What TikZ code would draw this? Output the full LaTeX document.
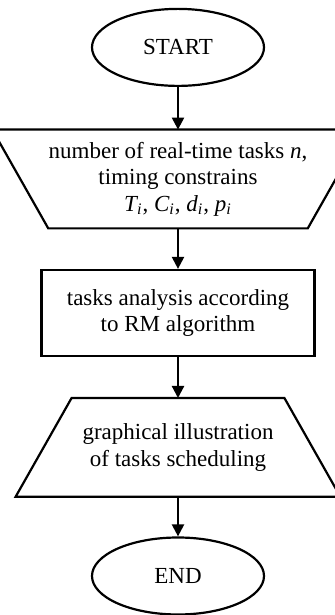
\documentclass[tikz,border=0pt]{standalone}
\usepackage{fontspec}
\setmainfont{Liberation Serif}
\usepackage{tikz}
\usetikzlibrary{
  arrows.meta,
  shapes.geometric,
  calc
}
\newcommand{\subi}[1]{$\mathit{#1}_{\mathit{i}}$}
\tikzset{
  % Chiziqlar
  flowline/.style  = {line width=1.1pt, draw=black},
  flowarrow/.style = {-{Triangle[length=6pt,width=6pt]}, line width=1.1pt},
  % Bloklar
  terminal/.style  = {ellipse, flowline, minimum width=86pt, minimum height=38.5pt, inner sep=0pt},
  procbox/.style   = {rectangle, flowline, minimum width=136.5pt, minimum height=43pt, inner sep=0pt},
  iobox/.style     = {rectangle, minimum width=106pt, minimum height=49pt, inner sep=0pt},
  % Matn
  txt/.style       = {font=\fontsize{11.5}{13.2}\selectfont, align=center},
}

\begin{document}
\begin{tikzpicture}[x=1pt, y=1pt]
  \useasboundingbox (0,0) rectangle (167,307.5);
  % START
  \node[terminal, txt] (start) at (89,283.8) {START};
  % kirish ma'lumotlari
  \node[iobox, txt] (input) at (89,218) {number of real-time tasks \textit{n},\\
    timing constrains\\ \subi{T}, \subi{C}, \subi{d}, \subi{p}};
  \draw[flowline] (input.south west) -- (input.south east)
    -- ($(input.north east)+(28,0)$) -- ($(input.north west)+(-28,0)$) -- cycle;
  % tahlil
  \node[procbox, txt] (analysis) at (89,151) {tasks analysis according\\ to RM algorithm};
  % natija
  \node[iobox, txt] (output) at (89,83.8) {graphical illustration\\ of tasks scheduling};
  \draw[flowline] (output.north west) -- (output.north east)
    -- ($(output.south east)+(28,0)$) -- ($(output.south west)+(-28,0)$) -- cycle;
  % END
  \node[terminal, txt] (finish) at (89,19.5) {END};
  % O'qlar
  \draw[flowarrow] (start) -- (input);
  \draw[flowarrow] (input) -- (analysis);
  \draw[flowarrow] (analysis) -- (output);
  \draw[flowarrow] (output) -- (finish);
\end{tikzpicture}
\end{document}
